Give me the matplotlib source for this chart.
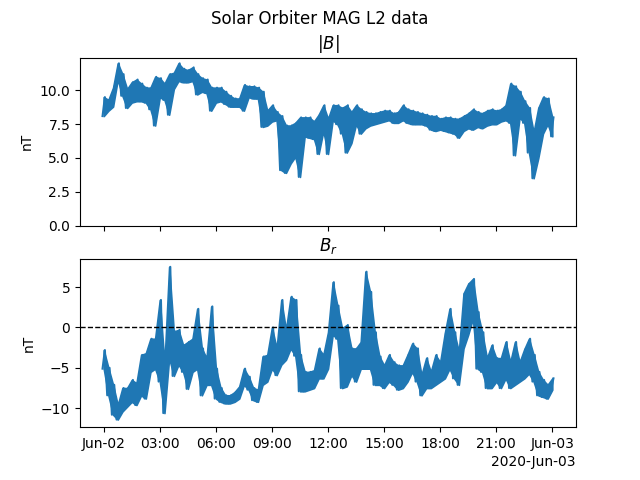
import numpy as np
import pandas as pd
import matplotlib
matplotlib.use("Agg")
import matplotlib.pyplot as plt
import matplotlib.dates as mdates

# 15-minute bins from 2020-06-02 00:00 to 2020-06-03 00:00 (97 bins)
# low / high envelope values
B_lo = [8.1, 8.5, 8.8, 10.8, 9.6, 8.7, 9.1, 9.2, 9.2, 9.1, 8.6, 7.4, 9.5,
        9.3, 8.2, 10.1, 10.7, 10.6, 10.6, 10.7, 9.7, 9.9, 9.8, 8.5, 9.1,
        9.2, 9.0, 8.8, 8.8, 8.8, 8.5, 9.5, 9.4, 9.4, 7.3, 7.4, 7.7, 7.8,
        4.1, 3.9, 4.6, 5.1, 3.6, 6.6, 6.5, 6.4, 5.3, 7.0, 5.3, 7.8, 7.5,
        6.8, 5.4, 6.1, 7.5, 6.8, 7.2, 7.4, 7.5, 7.6, 7.7, 7.8, 7.6, 7.6,
        7.8, 7.6, 7.5, 7.5, 7.5, 7.4, 7.1, 7.0, 7.1, 7.0, 6.9, 6.8, 6.5,
        7.0, 7.2, 7.1, 7.3, 7.2, 7.4, 7.5, 7.5, 7.7, 7.8, 7.6, 5.2, 8.0,
        7.6, 5.4, 3.5, 5.0, 6.8, 7.5, 6.6]
B_hi = [9.5, 9.3, 10.2, 12.0, 11.2, 10.1, 10.6, 10.8, 10.5, 10.2, 10.2, 11.0,
        10.9, 10.5, 11.2, 11.3, 12.0, 11.6, 11.5, 11.7, 11.2, 10.9, 10.8, 10.2,
        10.2, 10.2, 9.9, 9.6, 9.4, 9.4, 10.4, 10.3, 10.3, 10.2, 9.9, 8.5, 8.9,
        8.4, 8.1, 7.4, 7.4, 7.6, 8.0, 8.0, 8.0, 7.7, 8.2, 8.9, 7.9, 8.9, 8.9,
        8.7, 8.9, 8.4, 8.9, 8.6, 8.4, 8.3, 8.3, 8.4, 8.5, 8.5, 8.3, 8.4, 8.9,
        8.6, 8.5, 8.4, 8.3, 8.2, 8.1, 8.1, 7.9, 8.0, 8.0, 7.9, 7.9, 8.1, 8.3,
        8.6, 8.4, 8.3, 8.5, 8.6, 8.5, 8.6, 8.9, 10.5, 10.3, 9.9, 9.2, 8.7,
        6.9, 8.7, 9.5, 9.4, 8.0]

Br_lo = [-5.1, -8.4, -10.8, -11.4, -10.4, -9.8, -9.2, -9.6, -8.4, -8.8,
         -5.5, -5.1, -6.7, -10.6, -3.8, -6.0, -4.6, -5.5, -7.6, -5.5, -5.1,
         -8.4, -7.1, -7.1, -8.8, -9.2, -9.4, -9.4, -9.2, -8.8, -7.1, -7.7,
         -9.0, -9.2, -7.1, -6.7, -5.1, -5.9, -4.6, -4.0, -2.6, -3.5, -7.9,
         -7.9, -7.7, -7.5, -6.3, -6.3, -5.1, -0.9, -1.4, -7.5, -7.3, -5.9,
         -6.7, -5.1, -5.1, -5.1, -7.1, -7.1, -7.5, -6.7, -7.1, -7.7, -7.5,
         -6.7, -5.5, -6.7, -8.4, -7.5, -7.5, -7.1, -6.7, -6.3, -5.1, -6.3,
         -7.1, -2.6, -0.9, 1.1, -5.1, -5.5, -7.5, -7.5, -6.7, -7.5, -6.3,
         -7.5, -7.1, -6.7, -6.3, -5.7, -6.7, -8.4, -8.6, -8.8, -7.7]
Br_hi = [-2.8, -5.0, -7.1, -9.6, -7.5, -7.5, -6.5, -6.9, -3.4, -3.2, -1.4,
         -1.4, 3.4, -4.5, 7.5, -0.5, -0.3, -2.2, -1.8, -1.4, 2.3, -2.6, -3.8,
         2.6, -5.1, -7.5, -8.4, -8.4, -8.0, -7.3, -5.1, -6.1, -7.5, -7.7,
         -3.6, -3.4, 0.0, -2.6, 3.4, -0.3, 3.8, 3.4, -3.4, -5.5, -5.5, -5.3,
         -2.6, -3.4, -0.6, 5.6, 2.7, -0.1, 0.3, -2.6, -2.6, -1.8, 6.9, 4.4,
         -0.6, -3.6, -4.7, -3.4, -4.3, -4.7, -4.7, -3.4, -2.0, -2.6, -5.9,
         -3.8, -5.5, -3.4, -4.3, -0.7, 2.3, -0.6, -3.0, 4.2, 5.4, 6.0, 1.9,
         -0.6, -3.8, -2.2, -3.8, -3.8, -1.8, -4.3, -1.8, -4.3, -2.7, -1.4,
         -3.4, -5.5, -6.5, -7.1, -6.3]

start = pd.Timestamp("2020-06-02 00:00")
n = len(B_lo)
t_mid = start + pd.to_timedelta(np.arange(n) * 15, unit="min")
t_lo = start + pd.to_timedelta(np.arange(n) * 15 - 3.75, unit="min")
t_hi = start + pd.to_timedelta(np.arange(n) * 15 + 3.75, unit="min")
times = np.column_stack([t_lo.values, t_hi.values]).ravel()
B = np.column_stack([B_lo, B_hi]).ravel()
Br = np.column_stack([Br_lo, Br_hi]).ravel()

c = "#1f77b4"
fig, (ax1, ax2) = plt.subplots(2, 1, sharex=True, figsize=(6.4, 4.8), dpi=100)
fig.suptitle("Solar Orbiter MAG L2 data")

ax1.fill_between(t_mid, B_lo, B_hi, color=c, lw=1.2, edgecolor=c)
ax1.plot(times, B, color=c, lw=1.5)
ax1.set_ylim(bottom=0)
ax1.set_title("$|B|$")
ax1.set_ylabel("nT")

ax2.fill_between(t_mid, Br_lo, Br_hi, color=c, lw=1.2, edgecolor=c)
ax2.plot(times, Br, color=c, lw=1.5)
ax2.axhline(0, color="black", ls="--", lw=1)
ax2.set_title("$B_r$")
ax2.set_ylabel("nT")

loc = mdates.HourLocator(byhour=range(0, 24, 3))
ax2.xaxis.set_major_locator(loc)
ax2.xaxis.set_major_formatter(mdates.ConciseDateFormatter(loc))

fig.savefig("out.png", dpi=100)
